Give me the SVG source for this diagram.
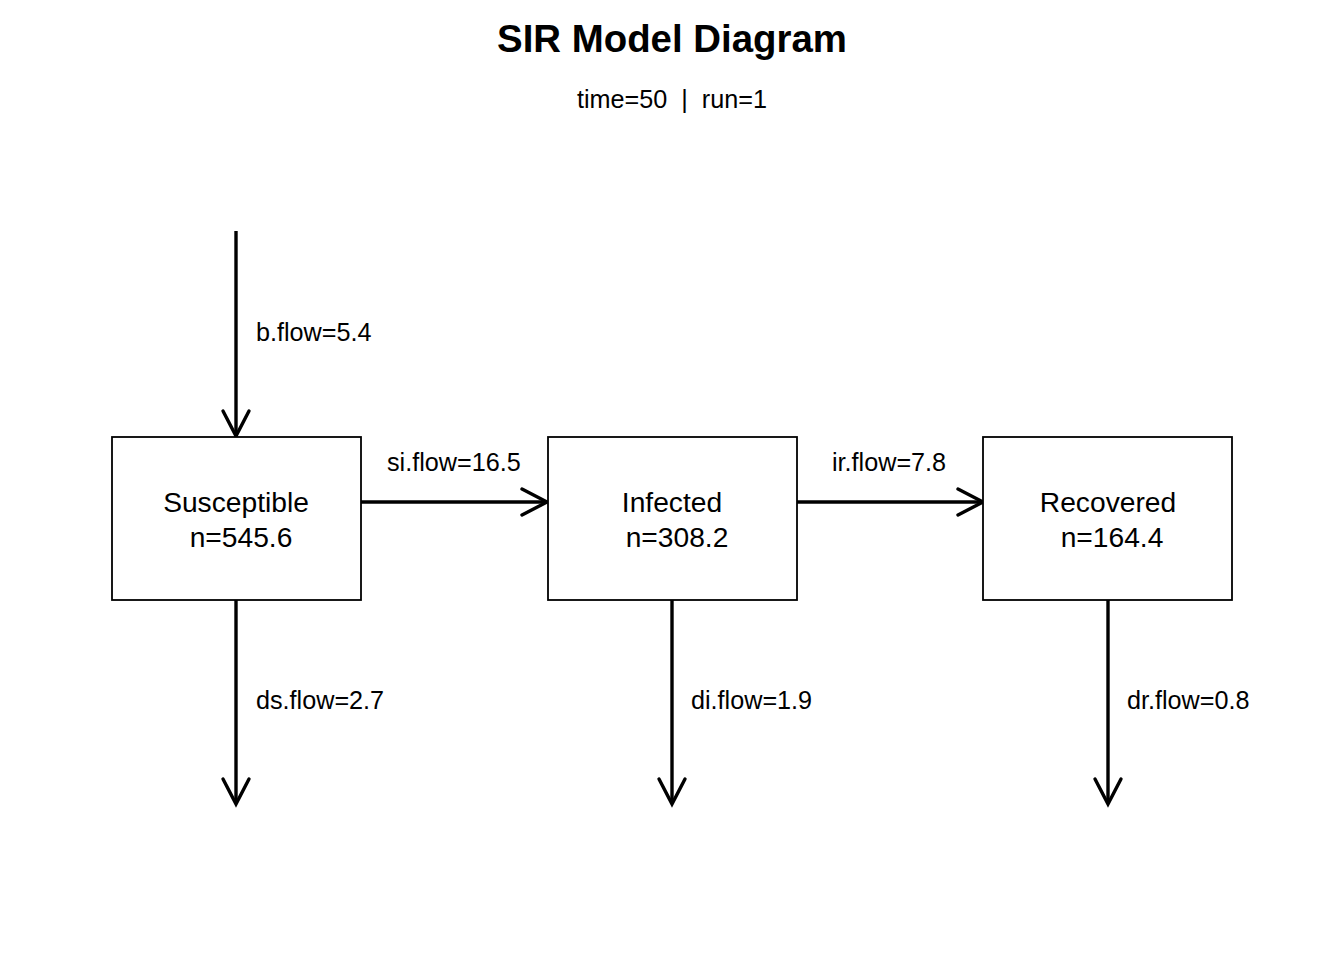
<svg xmlns="http://www.w3.org/2000/svg" width="1344" height="960" viewBox="0 0 1344 960">
<style>
text{font-family:"Liberation Sans",Arial,sans-serif;fill:#000}
.t{font-size:38.4px;font-weight:bold;text-anchor:middle}
.st{font-size:25.2px;text-anchor:middle}
.n{font-size:28.2px;text-anchor:middle}
.l{font-size:25.2px}
.box{fill:#fff;stroke:#000;stroke-width:1.8}
.c line{stroke:#000;stroke-width:3.4}
.c path{fill:none;stroke:#000;stroke-width:3.4;stroke-linecap:round}
</style>
<rect width="1344" height="960" fill="#fff"/>
<text class="t" x="672" y="52">SIR Model Diagram</text>
<text class="st" x="672" y="108" xml:space="preserve">time=50  |  run=1</text>
<g class="c" id="connectors">
<line x1="236" y1="231" x2="236" y2="436"/><path d="M223,411 L236,436 L249,411"/>
<line x1="361" y1="502" x2="547" y2="502"/><path d="M522,489 L547,502 L522,515"/>
<line x1="797" y1="502" x2="983" y2="502"/><path d="M958,489 L983,502 L958,515"/>
<line x1="236" y1="600" x2="236" y2="804"/><path d="M223,779 L236,804 L249,779"/>
<line x1="672" y1="600" x2="672" y2="804"/><path d="M659,779 L672,804 L685,779"/>
<line x1="1108" y1="600" x2="1108" y2="804"/><path d="M1095,779 L1108,804 L1121,779"/>
<text class="l" x="256" y="341">b.flow=5.4</text>
<text class="l" x="387" y="471">si.flow=16.5</text>
<text class="l" x="832" y="471">ir.flow=7.8</text>
<text class="l" x="256" y="709">ds.flow=2.7</text>
<text class="l" x="691" y="709">di.flow=1.9</text>
<text class="l" x="1127" y="709">dr.flow=0.8</text>
</g>
<g id="susceptible">
<rect class="box" x="112" y="437" width="249" height="163"/>
<text class="n" x="236" y="512">Susceptible</text>
<text class="n" x="241" y="547">n=545.6</text>
</g>
<g id="infected">
<rect class="box" x="548" y="437" width="249" height="163"/>
<text class="n" x="672" y="512">Infected</text>
<text class="n" x="677" y="547">n=308.2</text>
</g>
<g id="recovered">
<rect class="box" x="983" y="437" width="249" height="163"/>
<text class="n" x="1108" y="512">Recovered</text>
<text class="n" x="1112" y="547">n=164.4</text>
</g>
</svg>
